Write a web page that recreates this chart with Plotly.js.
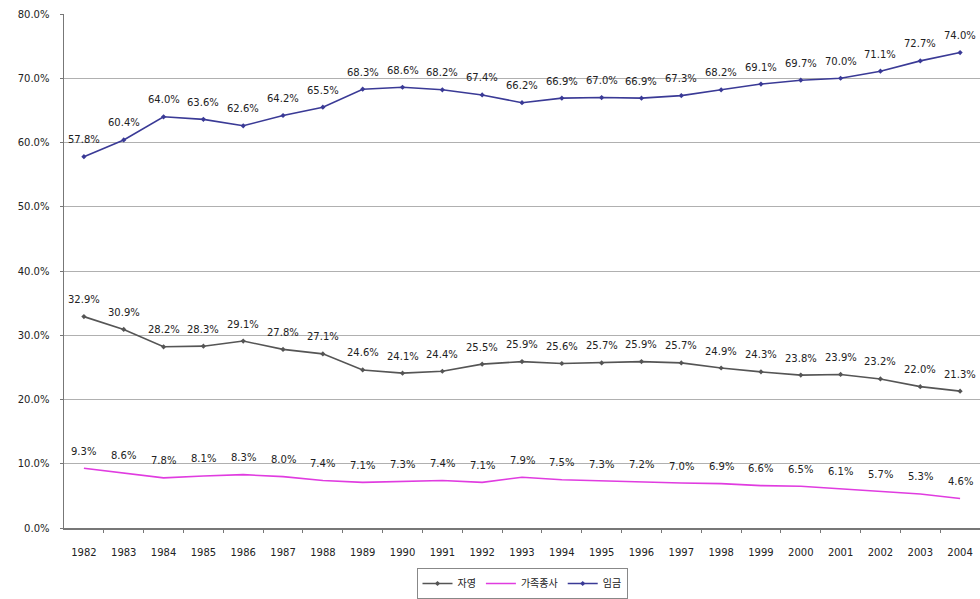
<!DOCTYPE html>
<html>
<head>
<meta charset="utf-8">
<script src="https://cdn.plot.ly/plotly-3.0.1.min.js"></script>
<style>
  html, body { margin: 0; padding: 0; background: #fff; }
  #chart { width: 980px; height: 599px; }
</style>
</head>
<body>
<div id="chart"></div>
<script>
// Employment composition by status, 1982-2004 (%)
const years = [1982, 1983, 1984, 1985, 1986, 1987, 1988, 1989, 1990, 1991, 1992, 1993,
               1994, 1995, 1996, 1997, 1998, 1999, 2000, 2001, 2002, 2003, 2004];

const selfEmployed = [32.9, 30.9, 28.2, 28.3, 29.1, 27.8, 27.1, 24.6, 24.1, 24.4, 25.5, 25.9,
                      25.6, 25.7, 25.9, 25.7, 24.9, 24.3, 23.8, 23.9, 23.2, 22.0, 21.3];

const familyWorkers = [9.3, 8.6, 7.8, 8.1, 8.3, 8.0, 7.4, 7.1, 7.3, 7.4, 7.1, 7.9,
                       7.5, 7.3, 7.2, 7.0, 6.9, 6.6, 6.5, 6.1, 5.7, 5.3, 4.6];

const wageWorkers = [57.8, 60.4, 64.0, 63.6, 62.6, 64.2, 65.5, 68.3, 68.6, 68.2, 67.4, 66.2,
                     66.9, 67.0, 66.9, 67.3, 68.2, 69.1, 69.7, 70.0, 71.1, 72.7, 74.0];

const seriesNames = ['자영', '가족종사', '임금'];
const yTicks = [0, 10, 20, 30, 40, 50, 60, 70, 80];

const textFont = { family: 'DejaVu Sans', size: 10, color: '#222' };
const pct = v => v.toFixed(1) + '%';

function series(name, values, color, withMarkers) {
  return {
    type: 'scatter',
    mode: withMarkers ? 'lines+markers' : 'lines',
    name: name,
    x: years,
    y: values,
    hoverinfo: 'x+y',
    line: { color: color, width: 1.6 },
    marker: { color: color, size: 4, symbol: 'diamond' }
  };
}

// value labels sit a little above each point
function valueLabels(values) {
  return values.map((v, i) => ({
    x: years[i], y: v, xref: 'x', yref: 'y',
    text: pct(v), showarrow: false,
    xanchor: 'center', yanchor: 'middle', yshift: 17,
    font: textFont
  }));
}

const traces = [
  series(seriesNames[0], selfEmployed, '#555555', true),
  series(seriesNames[1], familyWorkers, '#e03ce0', false),
  series(seriesNames[2], wageWorkers, '#3a3a96', true)
];

// category boundaries carry the small x-axis tick marks
const boundaries = years.slice(0, -1).map(y => y + 0.5);

const layout = {
  width: 980,
  height: 599,
  margin: { l: 64, r: 0, t: 14, b: 71 },
  paper_bgcolor: '#ffffff',
  plot_bgcolor: '#ffffff',
  showlegend: true,
  annotations: [
    ...valueLabels(selfEmployed),
    ...valueLabels(familyWorkers),
    ...valueLabels(wageWorkers)
  ],
  legend: {
    orientation: 'h',
    x: 0.5, xanchor: 'center',
    y: -0.078, yanchor: 'top',
    bordercolor: '#888', borderwidth: 1,
    font: { family: 'Noto Sans CJK KR', size: 10, color: '#222' },
    tracegroupgap: 0
  },
  xaxis: {
    range: [1981.5, 2004.5],
    tickmode: 'array',
    tickvals: years,
    ticktext: years.map(String),
    showgrid: false,
    zeroline: false,
    showline: true,
    linecolor: '#777',
    linewidth: 1.5,
    ticks: '',
    ticklabelstandoff: 14,
    tickfont: textFont,
    minor: {
      tickmode: 'array',
      tickvals: boundaries,
      ticks: 'outside',
      ticklen: 3,
      tickcolor: '#777',
      showgrid: false
    },
    fixedrange: true
  },
  yaxis: {
    range: [0, 80],
    tickmode: 'array',
    tickvals: yTicks,
    ticktext: yTicks.map(v => v.toFixed(1) + '%'),
    showgrid: true,
    gridcolor: '#b0b0b0',
    gridwidth: 1,
    zeroline: false,
    showline: true,
    linecolor: '#777',
    linewidth: 1.5,
    ticks: 'outside',
    ticklen: 3,
    tickcolor: '#777',
    ticklabelstandoff: 8,
    tickfont: textFont,
    fixedrange: true
  }
};

Plotly.newPlot('chart', traces, layout, { displayModeBar: false, staticPlot: true });
</script>
</body>
</html>
